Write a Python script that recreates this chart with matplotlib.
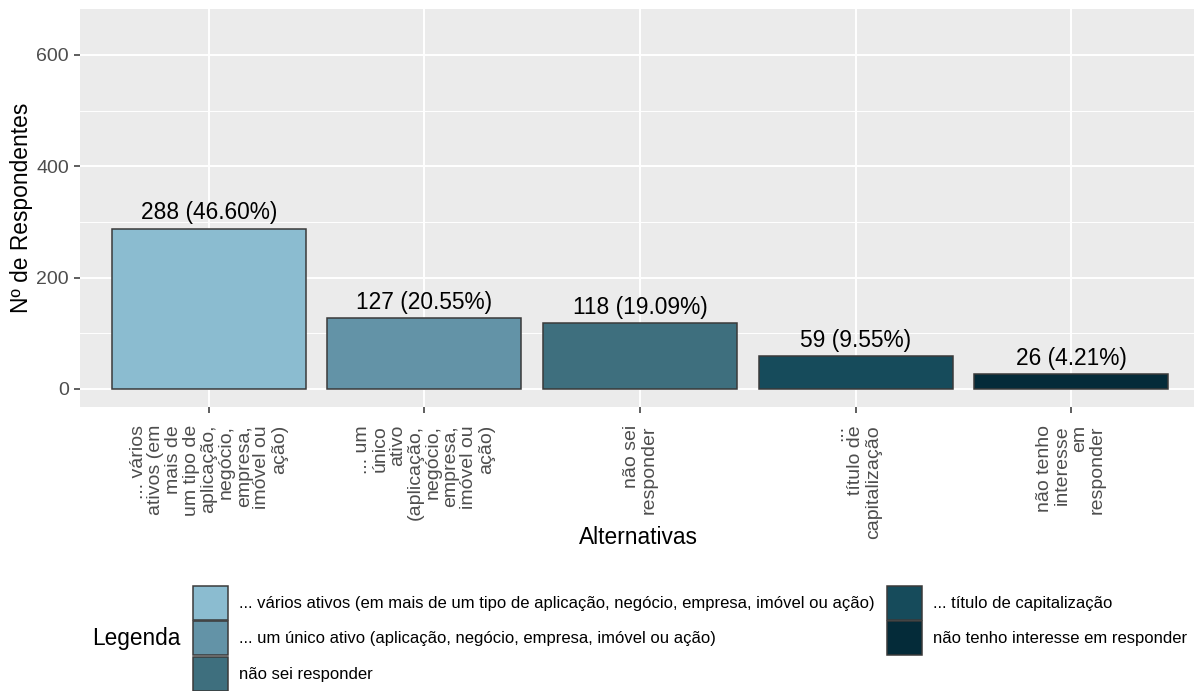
import matplotlib
matplotlib.use("Agg")
import matplotlib.pyplot as plt
from matplotlib.patches import Patch

plt.rcParams["font.family"] = ["Liberation Sans", "DejaVu Sans"]

# respostas
categorias = [
    "... vários ativos (em mais de um tipo de aplicação, negócio, empresa, imóvel ou ação)",
    "... um único ativo (aplicação, negócio, empresa, imóvel ou ação)",
    "não sei responder",
    "... título de capitalização",
    "não tenho interesse em responder",
]
rotulos_x = [
    "... vários\nativos (em\nmais de\num tipo de\naplicação,\nnegócio,\nempresa,\nimóvel ou\nação)",
    "... um\núnico\nativo\n(aplicação,\nnegócio,\nempresa,\nimóvel ou\nação)",
    "não sei\nresponder",
    "...\ntítulo de\ncapitalização",
    "não tenho\ninteresse\nem\nresponder",
]
respondentes = [288, 127, 118, 59, 26]
cores = ["#8BBCD0", "#6393A7", "#3E6F7E", "#164B5B", "#042B39"]

total = sum(respondentes)
pos = list(range(len(categorias)))

fig = plt.figure(figsize=(11.94, 6.91), dpi=100)
ax = fig.add_axes([79.5 / 1194, 1 - 407 / 691, 1 - 79.5 / 1194, (407 - 9) / 691])
ax.set_facecolor("#EBEBEB")
for s in ax.spines.values():
    s.set_visible(False)

ax.bar(pos, respondentes, width=0.9, color=cores, edgecolor="#3a3a3a",
       linewidth=1.1, zorder=3)

for x, v in zip(pos, respondentes):
    ax.annotate(f"{v} ({v / total * 100:.2f}%)", (x, v), xytext=(0, 3),
                textcoords="offset points", ha="center", va="bottom",
                fontsize=16.4, color="black", zorder=4)

ax.set_xlim(-0.6, 4.57)
ax.set_ylim(-32.5, 682.5)
ax.set_yticks([0, 200, 400, 600])
ax.set_yticks([100, 300, 500], minor=True)
ax.set_xticks(pos)
ax.set_xticklabels(rotulos_x, rotation=90, ha="center", va="top",
                   multialignment="right", linespacing=1.05)

ax.grid(which="major", color="white", linewidth=1.4, zorder=0)
ax.grid(which="minor", axis="y", color="white", linewidth=0.7, zorder=0)
ax.set_axisbelow(True)

ax.tick_params(axis="both", which="major", length=4, width=1.1, color="#333333",
               labelcolor="#4D4D4D", labelsize=14)
ax.tick_params(axis="y", pad=3.5)
ax.tick_params(axis="x", pad=9)
ax.tick_params(which="minor", length=0)

fig.text(22 / 1194, 1 - 208 / 691, "Nº de Respondentes", rotation=90,
         ha="center", va="center", fontsize=16.4)
fig.text(638 / 1194, 1 - 538 / 691, "Alternativas", ha="center", va="center",
         fontsize=16.4)

handles = [Patch(facecolor=c, edgecolor="#3a3a3a", linewidth=1.1) for c in cores]
fig.legend(handles, categorias, loc="upper left", ncol=2,
           bbox_to_anchor=(193 / 1194, 1 - 586 / 691), frameon=False,
           fontsize=12, handlelength=2.1, handleheight=2.76, labelspacing=0.09,
           handletextpad=0.66, columnspacing=0.72, borderpad=0, borderaxespad=0)
fig.text(92 / 1194, 1 - 638 / 691, "Legenda", ha="left", va="center",
         fontsize=16.3)

fig.savefig("out.png", dpi=100)
